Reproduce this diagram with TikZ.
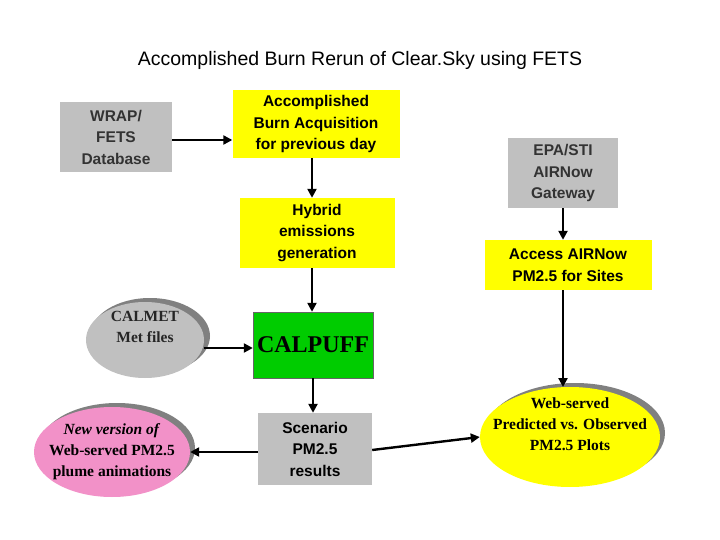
\documentclass[tikz,border=0pt]{standalone}
\usepackage{fontspec}
\setmainfont{Liberation Serif}
\newfontfamily\sansf{Liberation Sans}
\usetikzlibrary{shapes.geometric,arrows.meta}
\definecolor{gbox}{HTML}{C0C0C0}
\definecolor{ybox}{HTML}{FFFF00}
\definecolor{gshad}{HTML}{808080}
\definecolor{pinkc}{HTML}{F291C8}
\definecolor{greenc}{HTML}{00CC00}
\begin{document}
\begin{tikzpicture}[x=1pt,y=-1pt,
  box/.style={draw=none,inner sep=0pt,align=center,font=\sansf\bfseries\fontsize{15.5}{21.5}\selectfont},
  ell/.style={ellipse,draw=none,inner sep=-20pt,align=center,font=\bfseries\fontsize{15.5}{21}\selectfont},
  arr/.style={-{Triangle[length=9pt,width=9pt]},line width=2.4pt}]
\useasboundingbox (0,0) rectangle (720,540);
\fill[white] (0,0) rectangle (720,540);
\node[font=\sansf\fontsize{19.5}{22}\selectfont] (title) at (360,60) {Accomplished Burn Rerun of Clear.Sky using FETS};
\node[box,fill=gbox,minimum width=112pt,minimum height=70pt,text=black!80] (wrap) at (116,137) {WRAP/\\FETS\\Database};
\node[box,fill=ybox,minimum width=167pt,minimum height=68pt] (acc) at (316,124) {Accomplished\\Burn Acquisition\\for previous day};
\node[box,fill=ybox,minimum width=155pt,minimum height=70pt] (hyb) at (317,233) {Hybrid\\emissions\\generation};
\node[box,fill=gbox,minimum width=110pt,minimum height=70pt,text=black!80] (epa) at (563,173) {EPA/STI\\AIRNow\\Gateway};
\node[box,fill=ybox,minimum width=167pt,minimum height=50pt] (airn) at (568,265) {Access AIRNow\\PM2.5 for Sites};
\fill[gshad] (150,336) ellipse (60 and 38);
\node[ell,fill=gbox,minimum width=118pt,minimum height=76pt,text=black!85] (calmet) at (145,340) {CALMET\\Met files\\[6pt]\mbox{}};
\node[box,fill=greenc,draw=black!60,minimum width=120pt,minimum height=66pt,font=\bfseries\fontsize{24}{26}\selectfont] (puff) at (313,345) {CALPUFF};
\node[box,fill=gbox,minimum width=114pt,minimum height=72pt] (scen) at (315,449) {Scenario\\PM2.5\\results};
\fill[gshad] (117,448) ellipse (78 and 45);
\node[ell,fill=pinkc,minimum width=156pt,minimum height=90pt] (pink) at (112,452) {\textit{New version of}\\Web-served PM2.5\\plume animations};
\fill[gshad] (575,433) ellipse (90 and 50);
\node[ell,fill=ybox,minimum width=180pt,minimum height=100pt] (yel) at (570,437) {Web-served\\Predicted vs. Observed\\PM2.5 Plots\\[4pt]\mbox{}};
\draw[arr] (wrap.east|-0,140) -- (acc.west|-0,140);
\draw[arr] (acc.south-|312,0) -- (hyb.north-|312,0);
\draw[arr] (hyb.south-|312,0) -- (puff.north-|312,0);
\draw[arr] (calmet.east|-0,348) -- (puff.west|-0,348);
\draw[arr] (puff.south-|313,0) -- (scen.north-|313,0);
\draw[arr] (scen.west|-0,452) -- (pink.east|-0,452);
\draw[arr] (scen.east|-0,450) -- (yel.west|-0,437);
\draw[arr] (epa.south-|563,0) -- (airn.north-|563,0);
\draw[arr] (airn.south-|563,0) -- (563,387);
\end{tikzpicture}
\end{document}
